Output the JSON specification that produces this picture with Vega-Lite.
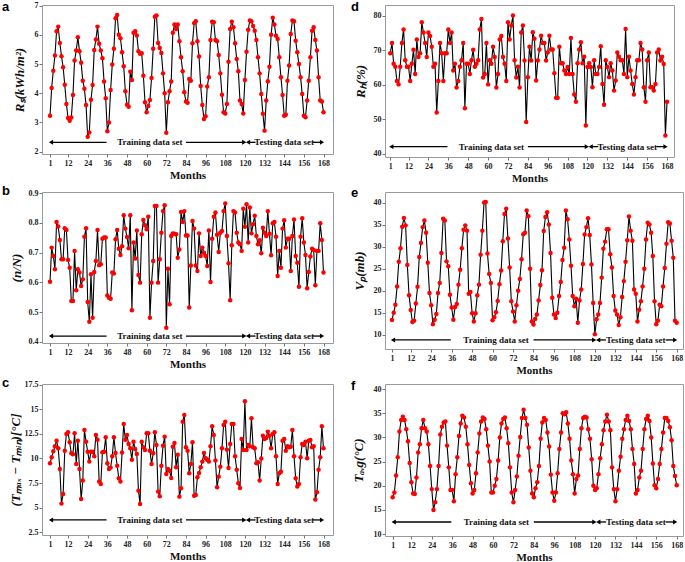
{
"$schema":"https://vega.github.io/schema/vega-lite/v6.json",
"background":"white",
"padding":{"left":1,"top":0,"right":0,"bottom":0},
"autosize":{"type":"pad"},
"datasets":{
"arrows":[{"x1":1.5,"x2":35.5},{"x1":84,"x2":119.5},{"x1":122,"x2":126.5},{"x1":161.5,"x2":167}],
"heads":[{"x":1.6,"s":"triangle-left"},{"x":119.6,"s":"triangle-right"},{"x":121.9,"s":"triangle-left"},{"x":167.1,"s":"triangle-right"}],
"notes":[{"x":62,"t":"Training data set"},{"x":144,"t":"Testing data set"}],
"series":[
{"m":1,"a":3.23,"b":0.602,"c":9.51,"d":69.1,"e":13.35,"f":17.6},
{"m":2,"a":4.18,"b":0.717,"c":10.12,"d":72.1,"e":15.0,"f":18.6},
{"m":3,"a":4.77,"b":0.689,"c":10.73,"d":66.1,"e":16.8,"f":22.1},
{"m":4,"a":5.29,"b":0.644,"c":11.24,"d":65.2,"e":21.0,"f":25.9},
{"m":5,"a":6.12,"b":0.803,"c":11.81,"d":61.1,"e":26.6,"f":31.2},
{"m":6,"a":6.28,"b":0.788,"c":11.03,"d":60.1,"e":29.7,"f":33.6},
{"m":7,"a":5.72,"b":0.743,"c":8.93,"d":65.2,"e":34.6,"f":34.3},
{"m":8,"a":5.27,"b":0.678,"c":5.41,"d":72.1,"e":36.6,"f":33.6},
{"m":9,"a":4.89,"b":0.678,"c":6.39,"d":76.0,"e":34.9,"f":31.7},
{"m":10,"a":4.29,"b":0.782,"c":10.79,"d":67.1,"e":25.9,"f":29.2},
{"m":11,"a":3.63,"b":0.776,"c":12.49,"d":65.2,"e":19.0,"f":24.7},
{"m":12,"a":3.15,"b":0.675,"c":12.66,"d":65.2,"e":15.6,"f":20.7},
{"m":13,"a":3.06,"b":0.649,"c":11.64,"d":61.1,"e":12.9,"f":18.4},
{"m":14,"a":3.17,"b":0.537,"c":10.52,"d":66.1,"e":13.2,"f":18.3},
{"m":15,"a":3.94,"b":0.537,"c":10.42,"d":70.1,"e":17.1,"f":21.7},
{"m":16,"a":5.12,"b":0.706,"c":12.56,"d":63.1,"e":20.9,"f":26.9},
{"m":17,"a":5.46,"b":0.573,"c":9.44,"d":73.1,"e":27.7,"f":28.6},
{"m":18,"a":5.92,"b":0.644,"c":11.81,"d":68.0,"e":30.9,"f":31.9},
{"m":19,"a":5.44,"b":0.633,"c":8.93,"d":69.1,"e":34.5,"f":33.6},
{"m":20,"a":5.04,"b":0.588,"c":5.88,"d":78.1,"e":36.0,"f":31.9},
{"m":21,"a":4.43,"b":0.610,"c":7.75,"d":75.1,"e":33.2,"f":31.2},
{"m":22,"a":4.15,"b":0.754,"c":12.90,"d":72.1,"e":26.4,"f":28.6},
{"m":23,"a":3.60,"b":0.782,"c":11.71,"d":68.0,"e":19.5,"f":24.1},
{"m":24,"a":2.51,"b":0.534,"c":10.69,"d":75.1,"e":16.7,"f":19.3},
{"m":25,"a":2.66,"b":0.467,"c":9.68,"d":74.1,"e":12.4,"f":15.0},
{"m":26,"a":3.78,"b":0.627,"c":10.69,"d":71.0,"e":13.4,"f":16.6},
{"m":27,"a":4.28,"b":0.481,"c":10.69,"d":65.2,"e":14.7,"f":19.3},
{"m":28,"a":5.48,"b":0.635,"c":10.22,"d":66.1,"e":19.5,"f":24.1},
{"m":29,"a":5.84,"b":0.672,"c":12.39,"d":52.0,"e":21.8,"f":30.6},
{"m":30,"a":6.28,"b":0.776,"c":11.91,"d":61.1,"e":28.6,"f":32.2},
{"m":31,"a":5.69,"b":0.658,"c":7.65,"d":72.1,"e":36.4,"f":33.1},
{"m":32,"a":5.46,"b":0.661,"c":7.41,"d":69.1,"e":36.0,"f":33.3},
{"m":33,"a":5.20,"b":0.747,"c":10.63,"d":61.1,"e":26.7,"f":28.3},
{"m":34,"a":4.40,"b":0.751,"c":10.69,"d":69.1,"e":25.6,"f":23.8},
{"m":35,"a":3.83,"b":0.751,"c":12.15,"d":69.1,"e":19.1,"f":19.1},
{"m":36,"a":2.70,"b":0.556,"c":9.51,"d":76.0,"e":16.2,"f":19.1},
{"m":37,"a":3.00,"b":0.548,"c":8.93,"d":72.1,"e":13.4,"f":16.8},
{"m":38,"a":4.11,"b":0.545,"c":9.07,"d":75.1,"e":16.3,"f":22.4},
{"m":39,"a":4.98,"b":0.633,"c":10.22,"d":64.1,"e":17.0,"f":25.9},
{"m":40,"a":5.52,"b":0.630,"c":12.15,"d":66.1,"e":21.4,"f":30.3},
{"m":41,"a":6.57,"b":0.745,"c":10.56,"d":59.2,"e":24.8,"f":32.9},
{"m":42,"a":6.68,"b":0.776,"c":9.27,"d":61.1,"e":29.7,"f":34.5},
{"m":43,"a":6.00,"b":0.713,"c":7.98,"d":65.2,"e":33.9,"f":34.1},
{"m":44,"a":5.88,"b":0.692,"c":7.65,"d":67.1,"e":34.9,"f":32.2},
{"m":45,"a":5.40,"b":0.722,"c":10.60,"d":72.1,"e":33.7,"f":28.6},
{"m":46,"a":4.92,"b":0.826,"c":13.50,"d":53.2,"e":19.3,"f":24.3},
{"m":47,"a":4.07,"b":0.781,"c":11.91,"d":66.1,"e":19.7,"f":20.5},
{"m":48,"a":3.61,"b":0.753,"c":12.39,"d":66.1,"e":14.9,"f":18.4},
{"m":49,"a":3.54,"b":0.715,"c":11.47,"d":63.1,"e":13.0,"f":19.1},
{"m":50,"a":4.74,"b":0.826,"c":11.03,"d":67.1,"e":14.9,"f":22.6},
{"m":51,"a":4.45,"b":0.506,"c":9.88,"d":70.1,"e":19.0,"f":26.9},
{"m":52,"a":6.07,"b":0.734,"c":11.71,"d":65.2,"e":21.4,"f":30.8},
{"m":53,"a":6.12,"b":0.680,"c":10.96,"d":66.1,"e":28.2,"f":33.3},
{"m":54,"a":5.98,"b":0.775,"c":10.46,"d":67.1,"e":33.7,"f":34.1},
{"m":55,"a":5.44,"b":0.625,"c":6.73,"d":76.0,"e":40.1,"f":33.8},
{"m":56,"a":5.35,"b":0.599,"c":5.38,"d":79.0,"e":40.2,"f":31.7},
{"m":57,"a":5.37,"b":0.762,"c":11.71,"d":62.1,"e":28.5,"f":28.3},
{"m":58,"a":4.60,"b":0.810,"c":11.13,"d":63.1,"e":23.8,"f":25.0},
{"m":59,"a":3.69,"b":0.792,"c":10.86,"d":72.1,"e":21.8,"f":18.6},
{"m":60,"a":3.35,"b":0.779,"c":12.56,"d":60.1,"e":13.3,"f":18.6},
{"m":61,"a":3.56,"b":0.821,"c":12.56,"d":67.1,"e":14.0,"f":20.0},
{"m":62,"a":3.77,"b":0.481,"c":10.79,"d":66.1,"e":15.1,"f":21.4},
{"m":63,"a":4.52,"b":0.599,"c":9.44,"d":71.0,"e":17.7,"f":25.2},
{"m":64,"a":5.52,"b":0.672,"c":10.52,"d":68.0,"e":21.5,"f":30.0},
{"m":65,"a":6.62,"b":0.857,"c":12.66,"d":59.2,"e":24.6,"f":32.9},
{"m":66,"a":6.66,"b":0.857,"c":11.37,"d":63.1,"e":31.3,"f":33.8},
{"m":67,"a":5.72,"b":0.599,"c":6.63,"d":73.1,"e":37.5,"f":34.1},
{"m":68,"a":5.55,"b":0.678,"c":6.16,"d":74.1,"e":38.7,"f":31.9},
{"m":69,"a":5.38,"b":0.767,"c":9.27,"d":68.0,"e":31.9,"f":28.8},
{"m":70,"a":4.68,"b":0.840,"c":11.30,"d":66.1,"e":25.3,"f":23.8},
{"m":71,"a":4.00,"b":0.860,"c":12.22,"d":61.1,"e":17.6,"f":18.6},
{"m":72,"a":2.65,"b":0.447,"c":8.42,"d":78.1,"e":15.3,"f":16.6},
{"m":73,"a":3.69,"b":0.646,"c":8.93,"d":73.1,"e":13.0,"f":19.1},
{"m":74,"a":4.07,"b":0.526,"c":8.76,"d":77.1,"e":16.7,"f":21.9},
{"m":75,"a":4.40,"b":0.756,"c":8.02,"d":80.0,"e":20.0,"f":26.2},
{"m":76,"a":6.07,"b":0.765,"c":11.20,"d":67.1,"e":22.7,"f":30.1},
{"m":77,"a":6.35,"b":0.764,"c":11.57,"d":62.1,"e":27.2,"f":34.0},
{"m":78,"a":6.20,"b":0.762,"c":9.10,"d":65.2,"e":32.9,"f":35.7},
{"m":79,"a":6.35,"b":0.683,"c":10.39,"d":59.2,"e":33.2,"f":34.0},
{"m":80,"a":5.78,"b":0.711,"c":6.12,"d":75.1,"e":38.3,"f":32.6},
{"m":81,"a":5.23,"b":0.837,"c":6.97,"d":77.1,"e":37.0,"f":27.9},
{"m":82,"a":4.75,"b":0.803,"c":13.74,"d":67.0,"e":25.0,"f":23.1},
{"m":83,"a":4.03,"b":0.840,"c":14.42,"d":49.2,"e":13.0,"f":18.4},
{"m":84,"a":3.72,"b":0.758,"c":11.13,"d":62.2,"e":12.3,"f":17.6},
{"m":85,"a":3.67,"b":0.758,"c":10.79,"d":71.0,"e":13.6,"f":19.5},
{"m":86,"a":4.49,"b":0.515,"c":8.49,"d":67.0,"e":14.6,"f":20.7},
{"m":87,"a":4.43,"b":0.657,"c":9.44,"d":75.2,"e":17.8,"f":24.1},
{"m":88,"a":5.71,"b":0.807,"c":11.64,"d":73.3,"e":21.3,"f":29.7},
{"m":89,"a":6.40,"b":0.781,"c":6.22,"d":61.2,"e":24.7,"f":33.1},
{"m":90,"a":6.46,"b":0.657,"c":6.29,"d":67.0,"e":33.6,"f":34.0},
{"m":91,"a":5.78,"b":0.638,"c":8.09,"d":70.2,"e":36.8,"f":33.6},
{"m":92,"a":5.26,"b":0.765,"c":8.53,"d":74.2,"e":37.9,"f":31.0},
{"m":93,"a":4.25,"b":0.689,"c":9.10,"d":72.1,"e":35.1,"f":28.1},
{"m":94,"a":3.60,"b":0.717,"c":9.68,"d":72.1,"e":28.6,"f":22.3},
{"m":95,"a":3.12,"b":0.700,"c":10.56,"d":67.0,"e":18.4,"f":18.6},
{"m":96,"a":3.21,"b":0.689,"c":10.02,"d":69.3,"e":14.6,"f":16.9},
{"m":97,"a":4.23,"b":0.655,"c":9.88,"d":74.2,"e":13.8,"f":18.6},
{"m":98,"a":4.55,"b":0.775,"c":9.68,"d":70.2,"e":15.0,"f":22.6},
{"m":99,"a":5.82,"b":0.601,"c":11.24,"d":70.2,"e":18.8,"f":27.6},
{"m":100,"a":6.45,"b":0.747,"c":13.27,"d":63.3,"e":22.0,"f":31.0},
{"m":101,"a":6.43,"b":0.821,"c":12.39,"d":56.2,"e":27.0,"f":35.0},
{"m":102,"a":5.82,"b":0.835,"c":9.80,"d":56.2,"e":29.8,"f":34.8},
{"m":103,"a":5.78,"b":0.760,"c":7.07,"d":71.0,"e":38.3,"f":35.2},
{"m":104,"a":5.31,"b":0.702,"c":8.15,"d":66.2,"e":36.3,"f":32.9},
{"m":105,"a":4.68,"b":0.767,"c":9.17,"d":66.2,"e":31.7,"f":29.7},
{"m":106,"a":3.95,"b":0.773,"c":11.03,"d":64.1,"e":25.7,"f":25.2},
{"m":107,"a":3.35,"b":0.840,"c":13.40,"d":63.1,"e":18.8,"f":22.4},
{"m":108,"a":3.31,"b":0.866,"c":13.74,"d":65.1,"e":16.5,"f":18.4},
{"m":109,"a":3.63,"b":0.756,"c":10.90,"d":63.1,"e":18.2,"f":21.4},
{"m":110,"a":5.08,"b":0.664,"c":9.03,"d":73.5,"e":12.7,"f":22.1},
{"m":111,"a":6.20,"b":0.540,"c":11.47,"d":63.1,"e":17.8,"f":27.6},
{"m":112,"a":6.45,"b":0.725,"c":13.50,"d":57.2,"e":20.3,"f":31.9},
{"m":113,"a":6.26,"b":0.840,"c":13.50,"d":55.1,"e":26.1,"f":34.0},
{"m":114,"a":5.71,"b":0.835,"c":10.22,"d":66.2,"e":32.8,"f":34.3},
{"m":115,"a":5.17,"b":0.767,"c":8.86,"d":70.2,"e":34.5,"f":34.1},
{"m":116,"a":4.75,"b":0.734,"c":7.48,"d":72.3,"e":36.5,"f":31.7},
{"m":117,"a":3.75,"b":0.728,"c":7.00,"d":66.2,"e":32.7,"f":29.7},
{"m":118,"a":3.63,"b":0.706,"c":11.98,"d":68.1,"e":26.0,"f":25.5},
{"m":119,"a":3.31,"b":0.848,"c":10.86,"d":48.2,"e":17.2,"f":20.0},
{"m":120,"a":4.45,"b":0.787,"c":15.81,"d":65.1,"e":10.1,"f":19.1},
{"m":121,"a":5.42,"b":0.863,"c":10.86,"d":66.2,"e":13.5,"f":19.5},
{"m":122,"a":6.17,"b":0.734,"c":11.37,"d":65.1,"e":14.6,"f":22.4},
{"m":123,"a":6.49,"b":0.852,"c":11.24,"d":59.3,"e":17.2,"f":25.7},
{"m":124,"a":6.46,"b":0.765,"c":14.08,"d":67.1,"e":23.0,"f":28.6},
{"m":125,"a":6.30,"b":0.796,"c":11.13,"d":63.1,"e":29.6,"f":31.5},
{"m":126,"a":6.14,"b":0.824,"c":11.03,"d":63.1,"e":31.2,"f":33.3},
{"m":127,"a":5.82,"b":0.756,"c":9.51,"d":65.1,"e":34.0,"f":34.7},
{"m":128,"a":5.23,"b":0.728,"c":9.61,"d":71.1,"e":34.0,"f":33.3},
{"m":129,"a":4.68,"b":0.742,"c":7.75,"d":60.2,"e":28.3,"f":31.5},
{"m":130,"a":3.97,"b":0.698,"c":10.00,"d":54.2,"e":25.3,"f":23.8},
{"m":131,"a":3.30,"b":0.784,"c":12.32,"d":67.1,"e":18.8,"f":19.3},
{"m":132,"a":2.72,"b":0.767,"c":11.98,"d":65.1,"e":15.5,"f":16.8},
{"m":133,"a":3.75,"b":0.756,"c":12.08,"d":62.2,"e":14.6,"f":19.3},
{"m":134,"a":4.41,"b":0.840,"c":12.73,"d":66.2,"e":12.2,"f":23.1},
{"m":135,"a":4.91,"b":0.764,"c":12.32,"d":64.1,"e":14.0,"f":26.0},
{"m":136,"a":6.00,"b":0.691,"c":11.03,"d":58.3,"e":18.6,"f":29.7},
{"m":137,"a":6.58,"b":0.799,"c":12.49,"d":61.2,"e":22.2,"f":31.7},
{"m":138,"a":6.35,"b":0.803,"c":12.66,"d":69.3,"e":26.6,"f":33.6},
{"m":139,"a":5.97,"b":0.754,"c":10.22,"d":68.1,"e":31.5,"f":34.5},
{"m":140,"a":5.86,"b":0.621,"c":7.41,"d":67.1,"e":36.9,"f":33.4},
{"m":141,"a":5.23,"b":0.706,"c":8.49,"d":67.1,"e":33.7,"f":31.7},
{"m":142,"a":4.55,"b":0.649,"c":8.66,"d":63.1,"e":31.4,"f":27.6},
{"m":143,"a":3.94,"b":0.781,"c":11.81,"d":76.1,"e":20.3,"f":24.5},
{"m":144,"a":3.23,"b":0.809,"c":11.98,"d":62.2,"e":19.3,"f":18.4},
{"m":145,"a":3.26,"b":0.717,"c":10.79,"d":68.1,"e":13.0,"f":19.1},
{"m":146,"a":4.43,"b":0.747,"c":11.24,"d":64.1,"e":15.7,"f":21.7},
{"m":147,"a":4.95,"b":0.747,"c":11.13,"d":60.2,"e":17.6,"f":23.1},
{"m":148,"a":6.03,"b":0.638,"c":11.20,"d":57.2,"e":21.0,"f":27.6},
{"m":149,"a":6.49,"b":0.756,"c":12.90,"d":62.2,"e":25.0,"f":31.7},
{"m":150,"a":6.46,"b":0.812,"c":10.22,"d":67.1,"e":31.7,"f":33.8},
{"m":151,"a":5.80,"b":0.689,"c":7.98,"d":67.1,"e":35.5,"f":34.5},
{"m":152,"a":5.40,"b":0.666,"c":7.14,"d":72.1,"e":35.1,"f":33.4},
{"m":153,"a":5.00,"b":0.585,"c":7.41,"d":70.2,"e":33.2,"f":30.0},
{"m":154,"a":4.55,"b":0.754,"c":10.12,"d":59.3,"e":27.9,"f":24.6},
{"m":155,"a":3.97,"b":0.816,"c":11.47,"d":55.1,"e":17.6,"f":20.1},
{"m":156,"a":3.23,"b":0.734,"c":11.37,"d":67.1,"e":12.4,"f":19.5},
{"m":157,"a":3.18,"b":0.692,"c":11.71,"d":69.3,"e":13.2,"f":21.4},
{"m":158,"a":3.75,"b":0.580,"c":10.02,"d":59.3,"e":16.8,"f":24.5},
{"m":159,"a":4.43,"b":0.635,"c":11.81,"d":59.3,"e":16.5,"f":27.6},
{"m":160,"a":5.23,"b":0.687,"c":11.88,"d":58.3,"e":21.0,"f":31.0},
{"m":161,"a":6.14,"b":0.713,"c":11.13,"d":60.2,"e":25.2,"f":34.0},
{"m":162,"a":6.26,"b":0.709,"c":11.24,"d":69.3,"e":30.7,"f":34.0},
{"m":163,"a":5.82,"b":0.590,"c":5.82,"d":70.2,"e":35.6,"f":33.4},
{"m":164,"a":5.46,"b":0.706,"c":6.56,"d":67.0,"e":35.3,"f":32.1},
{"m":165,"a":4.55,"b":0.706,"c":8.86,"d":68.1,"e":31.4,"f":29.4},
{"m":166,"a":3.75,"b":0.799,"c":10.12,"d":66.0,"e":27.5,"f":24.1},
{"m":167,"a":3.72,"b":0.743,"c":13.27,"d":45.3,"e":13.2,"f":22.0},
{"m":168,"a":3.35,"b":0.633,"c":11.03,"d":55.1,"e":12.7,"f":20.1}
]},
"columns":2,
"align":"each",
"bounds":"flush",
"spacing":{"row":35,"column":52},
"concat":[
{"width":291,"height":149,"data":{"name":"series"},"resolve":{"axis":{"x":"independent","y":"independent"}},"layer":[
 {"mark":{"type":"line","color":"#000","strokeWidth":1.1},"encoding":{"x":{"field":"m","type":"quantitative","title":"Months","scale":{"domain":[-3.9,173.8],"nice":false,"zero":false},"axis":{"values":[1,12,24,36,48,60,72,84,96,108,120,132,144,156,168],"labelOverlap":false}},"y":{"field":"a","type":"quantitative","title":"Rₛ(kWh/m²)","scale":{"domain":[1.92,7.02],"nice":false,"zero":false},"axis":{"values":[2,3,4,5,6,7],"format":"d","titlePadding":8,"labelOverlap":false}}}},
 {"mark":{"type":"point","filled":true,"color":"#ff0000","size":20,"opacity":1},"encoding":{"x":{"field":"m","type":"quantitative","axis":null},"y":{"field":"a","type":"quantitative","axis":null}}},
 {"data":{"name":"arrows"},"mark":{"type":"rule","color":"#000","strokeWidth":1.3},"encoding":{"x":{"field":"x1","type":"quantitative","axis":null},"x2":{"field":"x2"},"y":{"datum":2.32,"type":"quantitative","axis":null}}},
 {"data":{"name":"heads"},"mark":{"type":"point","filled":true,"color":"#000","size":24,"opacity":1},"encoding":{"x":{"field":"x","type":"quantitative","axis":null},"y":{"datum":2.32,"type":"quantitative","axis":null},"shape":{"field":"s","type":"nominal","scale":null,"legend":null}}},
 {"data":{"name":"notes"},"mark":{"type":"text","font":"Liberation Serif","fontWeight":"bold","fontSize":9,"color":"#111","baseline":"middle"},"encoding":{"x":{"field":"x","type":"quantitative","axis":null},"y":{"datum":2.32,"type":"quantitative","axis":null},"text":{"field":"t"}}},
 {"data":{"values":[{"t":"a"}]},"mark":{"type":"text","font":"Liberation Sans","fontWeight":"bold","fontSize":13,"align":"left","baseline":"alphabetic","color":"#000"},"encoding":{"x":{"datum":-28.3,"type":"quantitative","axis":null},"y":{"datum":6.81,"type":"quantitative","axis":null},"text":{"field":"t"}}}
]},
{"width":289,"height":152,"data":{"name":"series"},"resolve":{"axis":{"x":"independent","y":"independent"}},"layer":[
 {"mark":{"type":"line","color":"#000","strokeWidth":1.1},"encoding":{"x":{"field":"m","type":"quantitative","title":"Months","scale":{"domain":[-2.2,172.2],"nice":false,"zero":false},"axis":{"values":[1,12,24,36,48,60,72,84,96,108,120,132,144,156,168],"labelOverlap":false}},"y":{"field":"d","type":"quantitative","title":"Rₕ(%)","scale":{"domain":[39.1,83.06],"nice":false,"zero":false},"axis":{"values":[40,50,60,70,80],"format":"d","titlePadding":6,"labelOverlap":false}}}},
 {"mark":{"type":"point","filled":true,"color":"#ff0000","size":20,"opacity":1},"encoding":{"x":{"field":"m","type":"quantitative","axis":null},"y":{"field":"d","type":"quantitative","axis":null}}},
 {"data":{"name":"arrows"},"mark":{"type":"rule","color":"#000","strokeWidth":1.3},"encoding":{"x":{"field":"x1","type":"quantitative","axis":null},"x2":{"field":"x2"},"y":{"datum":42.1,"type":"quantitative","axis":null}}},
 {"data":{"name":"heads"},"mark":{"type":"point","filled":true,"color":"#000","size":24,"opacity":1},"encoding":{"x":{"field":"x","type":"quantitative","axis":null},"y":{"datum":42.1,"type":"quantitative","axis":null},"shape":{"field":"s","type":"nominal","scale":null,"legend":null}}},
 {"data":{"name":"notes"},"mark":{"type":"text","font":"Liberation Serif","fontWeight":"bold","fontSize":9,"color":"#111","baseline":"middle"},"encoding":{"x":{"field":"x","type":"quantitative","axis":null},"y":{"datum":42.1,"type":"quantitative","axis":null},"text":{"field":"t"}}},
 {"data":{"values":[{"t":"d"}]},"mark":{"type":"text","font":"Liberation Sans","fontWeight":"bold","fontSize":13,"align":"left","baseline":"alphabetic","color":"#000"},"encoding":{"x":{"datum":-22.7,"type":"quantitative","axis":null},"y":{"datum":81.24,"type":"quantitative","axis":null},"text":{"field":"t"}}}
]},
{"width":291,"height":151,"data":{"name":"series"},"resolve":{"axis":{"x":"independent","y":"independent"}},"layer":[
 {"mark":{"type":"line","color":"#000","strokeWidth":1.1},"encoding":{"x":{"field":"m","type":"quantitative","title":"Months","scale":{"domain":[-3.9,173.8],"nice":false,"zero":false},"axis":{"values":[1,12,24,36,48,60,72,84,96,108,120,132,144,156,168],"labelOverlap":false}},"y":{"field":"b","type":"quantitative","title":"(n/N)","scale":{"domain":[0.3956,0.9044],"nice":false,"zero":false},"axis":{"values":[0.4,0.5,0.6,0.7,0.8,0.9],"format":".1f","titlePadding":5,"labelOverlap":false}}}},
 {"mark":{"type":"point","filled":true,"color":"#ff0000","size":20,"opacity":1},"encoding":{"x":{"field":"m","type":"quantitative","axis":null},"y":{"field":"b","type":"quantitative","axis":null}}},
 {"data":{"name":"arrows"},"mark":{"type":"rule","color":"#000","strokeWidth":1.3},"encoding":{"x":{"field":"x1","type":"quantitative","axis":null},"x2":{"field":"x2"},"y":{"datum":0.419,"type":"quantitative","axis":null}}},
 {"data":{"name":"heads"},"mark":{"type":"point","filled":true,"color":"#000","size":24,"opacity":1},"encoding":{"x":{"field":"x","type":"quantitative","axis":null},"y":{"datum":0.419,"type":"quantitative","axis":null},"shape":{"field":"s","type":"nominal","scale":null,"legend":null}}},
 {"data":{"name":"notes"},"mark":{"type":"text","font":"Liberation Serif","fontWeight":"bold","fontSize":9,"color":"#111","baseline":"middle"},"encoding":{"x":{"field":"x","type":"quantitative","axis":null},"y":{"datum":0.419,"type":"quantitative","axis":null},"text":{"field":"t"}}},
 {"data":{"values":[{"t":"b"}]},"mark":{"type":"text","font":"Liberation Sans","fontWeight":"bold","fontSize":13,"align":"left","baseline":"alphabetic","color":"#000"},"encoding":{"x":{"datum":-28.3,"type":"quantitative","axis":null},"y":{"datum":0.8943,"type":"quantitative","axis":null},"text":{"field":"t"}}}
]},
{"width":298,"height":157,"data":{"name":"series"},"resolve":{"axis":{"x":"independent","y":"independent"}},"layer":[
 {"mark":{"type":"line","color":"#000","strokeWidth":1.1},"encoding":{"x":{"field":"m","type":"quantitative","title":"Months","scale":{"domain":[-3.1,171.7],"nice":false,"zero":false},"axis":{"values":[1,12,24,36,48,60,72,84,96,108,120,132,144,156,168],"labelOverlap":false}},"y":{"field":"e","type":"quantitative","title":"Vₚ(mb)","scale":{"domain":[6.74,42.5],"nice":false,"zero":false},"axis":{"values":[10,15,20,25,30,35,40],"format":"d","titlePadding":7,"labelOverlap":false}}}},
 {"mark":{"type":"point","filled":true,"color":"#ff0000","size":20,"opacity":1},"encoding":{"x":{"field":"m","type":"quantitative","axis":null},"y":{"field":"e","type":"quantitative","axis":null}}},
 {"data":{"name":"arrows"},"mark":{"type":"rule","color":"#000","strokeWidth":1.3},"encoding":{"x":{"field":"x1","type":"quantitative","axis":null},"x2":{"field":"x2"},"y":{"datum":8.8,"type":"quantitative","axis":null}}},
 {"data":{"name":"heads"},"mark":{"type":"point","filled":true,"color":"#000","size":24,"opacity":1},"encoding":{"x":{"field":"x","type":"quantitative","axis":null},"y":{"datum":8.8,"type":"quantitative","axis":null},"shape":{"field":"s","type":"nominal","scale":null,"legend":null}}},
 {"data":{"name":"notes"},"mark":{"type":"text","font":"Liberation Serif","fontWeight":"bold","fontSize":9,"color":"#111","baseline":"middle"},"encoding":{"x":{"field":"x","type":"quantitative","axis":null},"y":{"datum":8.8,"type":"quantitative","axis":null},"text":{"field":"t"}}},
 {"data":{"values":[{"t":"e"}]},"mark":{"type":"text","font":"Liberation Sans","fontWeight":"bold","fontSize":13,"align":"left","baseline":"alphabetic","color":"#000"},"encoding":{"x":{"datum":-23.0,"type":"quantitative","axis":null},"y":{"datum":41.36,"type":"quantitative","axis":null},"text":{"field":"t"}}}
]},
{"width":291,"height":151,"data":{"name":"series"},"resolve":{"axis":{"x":"independent","y":"independent"}},"layer":[
 {"mark":{"type":"line","color":"#000","strokeWidth":1.1},"encoding":{"x":{"field":"m","type":"quantitative","title":"Months","scale":{"domain":[-3.9,173.8],"nice":false,"zero":false},"axis":{"values":[1,12,24,36,48,60,72,84,96,108,120,132,144,156,168],"labelOverlap":false}},"y":{"field":"c","type":"quantitative","title":"(Tₘₐₓ − Tₘᵢₙ)[°C]","scale":{"domain":[2.22,17.57],"nice":false,"zero":false},"axis":{"values":[2.5,5,7.5,10,12.5,15,17.5],"format":".1~f","titlePadding":2,"labelOverlap":false}}}},
 {"mark":{"type":"point","filled":true,"color":"#ff0000","size":20,"opacity":1},"encoding":{"x":{"field":"m","type":"quantitative","axis":null},"y":{"field":"c","type":"quantitative","axis":null}}},
 {"data":{"name":"arrows"},"mark":{"type":"rule","color":"#000","strokeWidth":1.3},"encoding":{"x":{"field":"x1","type":"quantitative","axis":null},"x2":{"field":"x2"},"y":{"datum":3.75,"type":"quantitative","axis":null}}},
 {"data":{"name":"heads"},"mark":{"type":"point","filled":true,"color":"#000","size":24,"opacity":1},"encoding":{"x":{"field":"x","type":"quantitative","axis":null},"y":{"datum":3.75,"type":"quantitative","axis":null},"shape":{"field":"s","type":"nominal","scale":null,"legend":null}}},
 {"data":{"name":"notes"},"mark":{"type":"text","font":"Liberation Serif","fontWeight":"bold","fontSize":9,"color":"#111","baseline":"middle"},"encoding":{"x":{"field":"x","type":"quantitative","axis":null},"y":{"datum":3.75,"type":"quantitative","axis":null},"text":{"field":"t"}}},
 {"data":{"values":[{"t":"c"}]},"mark":{"type":"text","font":"Liberation Sans","fontWeight":"bold","fontSize":13,"align":"left","baseline":"alphabetic","color":"#000"},"encoding":{"x":{"datum":-28.3,"type":"quantitative","axis":null},"y":{"datum":17.23,"type":"quantitative","axis":null},"text":{"field":"t"}}}
]},
{"width":298,"height":152,"data":{"name":"series"},"resolve":{"axis":{"x":"independent","y":"independent"}},"layer":[
 {"mark":{"type":"line","color":"#000","strokeWidth":1.1},"encoding":{"x":{"field":"m","type":"quantitative","title":"Months","scale":{"domain":[-3.5,171.7],"nice":false,"zero":false},"axis":{"values":[1,12,24,36,48,60,72,84,96,108,120,132,144,156,168],"labelOverlap":false}},"y":{"field":"f","type":"quantitative","title":"Tₐᵥg(°C)","scale":{"domain":[9.6,41.05],"nice":false,"zero":false},"axis":{"values":[10,15,20,25,30,35,40],"format":"d","titlePadding":8,"labelOverlap":false}}}},
 {"mark":{"type":"point","filled":true,"color":"#ff0000","size":20,"opacity":1},"encoding":{"x":{"field":"m","type":"quantitative","axis":null},"y":{"field":"f","type":"quantitative","axis":null}}},
 {"data":{"name":"arrows"},"mark":{"type":"rule","color":"#000","strokeWidth":1.3},"encoding":{"x":{"field":"x1","type":"quantitative","axis":null},"x2":{"field":"x2"},"y":{"datum":12.5,"type":"quantitative","axis":null}}},
 {"data":{"name":"heads"},"mark":{"type":"point","filled":true,"color":"#000","size":24,"opacity":1},"encoding":{"x":{"field":"x","type":"quantitative","axis":null},"y":{"datum":12.5,"type":"quantitative","axis":null},"shape":{"field":"s","type":"nominal","scale":null,"legend":null}}},
 {"data":{"name":"notes"},"mark":{"type":"text","font":"Liberation Serif","fontWeight":"bold","fontSize":9,"color":"#111","baseline":"middle"},"encoding":{"x":{"field":"x","type":"quantitative","axis":null},"y":{"datum":12.5,"type":"quantitative","axis":null},"text":{"field":"t"}}},
 {"data":{"values":[{"t":"f"}]},"mark":{"type":"text","font":"Liberation Sans","fontWeight":"bold","fontSize":13,"align":"left","baseline":"alphabetic","color":"#000"},"encoding":{"x":{"datum":-23.5,"type":"quantitative","axis":null},"y":{"datum":39.81,"type":"quantitative","axis":null},"text":{"field":"t"}}}
]}
],
"config":{
 "view":{"stroke":"#9a9a9a","strokeWidth":1},
 "axis":{"grid":false,"domain":false,"tickColor":"#777","tickSize":3,"labelFont":"Liberation Serif","labelFontWeight":"bold","labelFontSize":8,"labelColor":"#222","titleFont":"Liberation Serif","titleFontWeight":"bold","titleColor":"#111","labelFlush":false,"labelOverlap":false},
 "axisX":{"labelPadding":2,"titlePadding":2,"titleFontSize":11},
 "axisY":{"labelPadding":1,"titleFontSize":13,"titleFontStyle":"italic"}
}
}
